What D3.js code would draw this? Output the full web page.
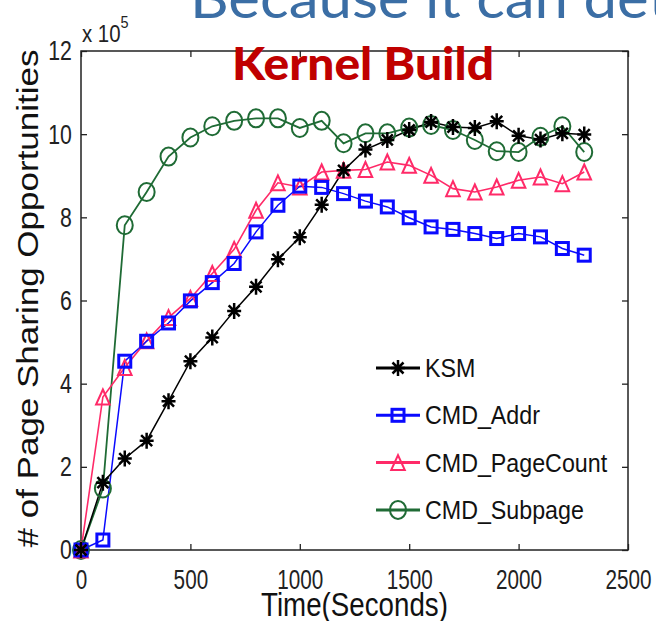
<!DOCTYPE html>
<html><head><meta charset="utf-8">
<script src="https://cdn.jsdelivr.net/npm/d3@7"></script>
<style>body{margin:0;background:#fff}svg{display:block}</style>
</head><body>
<svg id="chart" width="656" height="621"></svg>
<script>
const times = [0,100,200,300,400,500,600,700,800,900,1000,1100,1200,1300,1400,1500,1600,1700,1800,1900,2000,2100,2200,2300];
const ksm = [0,1.62,2.2,2.63,3.58,4.54,5.11,5.75,6.33,6.99,7.52,8.3,9.13,9.63,9.86,10.1,10.29,10.17,10.15,10.31,9.96,9.87,10.02,9.99];
const cmdAddr = [0,0.24,4.54,5.02,5.46,5.99,6.43,6.89,7.65,8.29,8.75,8.72,8.57,8.39,8.25,7.99,7.77,7.71,7.61,7.49,7.61,7.53,7.25,7.09];
const cmdPageCount = [0,3.68,4.39,5.03,5.59,6.05,6.65,7.23,8.17,8.83,8.73,9.09,9.13,9.15,9.33,9.25,9.01,8.69,8.61,8.73,8.89,8.97,8.81,9.09];
const cmdSubpage = [0,1.48,7.81,8.61,9.46,9.92,10.19,10.32,10.38,10.38,10.15,10.32,9.78,10.02,10.02,10.16,10.22,10.1,9.86,9.59,9.57,9.94,10.19,9.57];
const seriesNames = ["KSM","CMD_Addr","CMD_PageCount","CMD_Subpage"];
const xTicks = [0,500,1000,1500,2000,2500];
const yTicks = [0,2,4,6,8,10,12];
const titleText = "Kernel Build";
const slideText = "Because it can det";

const svg = d3.select("#chart");
const x = d3.scaleLinear().domain([0,2500]).range([81,628]);
const y = d3.scaleLinear().domain([0,12]).range([550,51]);

// slide heading (cut off at top)
svg.append("text").attr("x",190).attr("y",18)
  .attr("font-family","Lato").attr("font-size",56).attr("fill","#3b6ea5")
  .attr("textLength",480).attr("lengthAdjust","spacingAndGlyphs")
  .text(slideText);

const fontAx = "Liberation Sans";
const axColor = "#222";

// bottom axis
const gx = svg.append("g").attr("transform",`translate(0,${y(0)})`)
  .call(d3.axisBottom(x).tickValues(xTicks).tickSize(-6).tickSizeOuter(0).tickPadding(19).tickFormat(d3.format("d")));
gx.selectAll("text").attr("font-family",fontAx).attr("font-size",28).attr("fill",axColor).attr("transform","scale(0.74,1)");
// left axis
const gy = svg.append("g").attr("transform",`translate(${x(0)},0)`)
  .call(d3.axisLeft(y).tickValues(yTicks).tickSize(-6).tickSizeOuter(0).tickPadding(12).tickFormat(d3.format("d")));
gy.selectAll("text").attr("font-family",fontAx).attr("font-size",28).attr("fill",axColor).attr("transform","scale(0.76,1)");
// top and right axes (ticks only)
svg.append("g").attr("transform",`translate(0,${y(12)})`)
  .call(d3.axisTop(x).tickValues(xTicks).tickSize(-6).tickSizeOuter(0).tickFormat(""));
svg.append("g").attr("transform",`translate(${x(2500)},0)`)
  .call(d3.axisRight(y).tickValues(yTicks).tickSize(-6).tickSizeOuter(0).tickFormat(""));
svg.selectAll(".domain").remove();
svg.selectAll(".tick line").attr("stroke",axColor).attr("stroke-width",1.3);
svg.append("rect").attr("x",x(0)).attr("y",y(12)).attr("width",x(2500)-x(0)).attr("height",y(0)-y(12))
  .attr("fill","none").attr("stroke",axColor).attr("stroke-width",1.5);

// exponent label
const ex = svg.append("text").attr("x",82).attr("y",42).attr("font-family",fontAx).attr("font-size",24).attr("fill",axColor)
  .attr("transform","translate(82,0) scale(0.85,1) translate(-82,0)");
ex.append("tspan").text("x 10");
ex.append("tspan").attr("dy",-14).attr("font-size",17).text("5");

// axis labels
svg.append("text").attr("transform",`translate(38,${(y(0)+y(12))/2 - 2}) rotate(-90) scale(1,0.82)`)
  .attr("text-anchor","middle").attr("font-family",fontAx).attr("font-size",35).attr("fill","#111")
  .text("# of Page Sharing Opportunities");
svg.append("text").attr("transform",`translate(${(x(0)+x(2500))/2},616) scale(0.84,1)`)
  .attr("text-anchor","middle").attr("font-family",fontAx).attr("font-size",33).attr("fill","#111")
  .text("Time(Seconds)");

// marker generators
function drawMarker(g, type, color, sw){
  if(type==="star"){
    const p = "M0,-8L0,8M-7,0L7,0M-5.5,-5.5L5.5,5.5M-5.5,5.5L5.5,-5.5";
    g.append("path").attr("d",p).attr("stroke",color).attr("stroke-width",sw).attr("fill","none");
  } else if(type==="square"){
    g.append("rect").attr("x",-6).attr("y",-6).attr("width",12).attr("height",12)
      .attr("stroke",color).attr("stroke-width",sw).attr("fill","none");
  } else if(type==="triangle"){
    g.append("path").attr("d","M0,-7.5L6.8,7.5L-6.8,7.5Z").attr("stroke",color).attr("stroke-width",sw).attr("fill","none");
  } else {
    g.append("ellipse").attr("rx",8).attr("ry",9).attr("stroke",color).attr("stroke-width",sw).attr("fill","none");
  }
}

const series = [
  {name:seriesNames[3], vals:cmdSubpage, color:"#1f6b35", marker:"circle", lw:1.8, msw:2},
  {name:seriesNames[2], vals:cmdPageCount, color:"#ff2a68", marker:"triangle", lw:1.6, msw:2},
  {name:seriesNames[1], vals:cmdAddr, color:"#0a0aff", marker:"square", lw:1.5, msw:3},
  {name:seriesNames[0], vals:ksm, color:"#000000", marker:"star", lw:1.5, msw:2.5}
];
const line = d3.line().x((d,i)=>x(times[i])).y(d=>y(d));
series.forEach(s=>{
  svg.append("path").datum(s.vals).attr("d",line).attr("fill","none").attr("stroke",s.color).attr("stroke-width",s.lw);
});
series.forEach(s=>{
  s.vals.forEach((v,i)=>{
    const g = svg.append("g").attr("transform",`translate(${x(times[i])},${y(v)})`);
    drawMarker(g,s.marker,s.color,s.msw);
  });
});

// legend
const legendOrder = [series[3],series[2],series[1],series[0]];
legendOrder.forEach((s,i)=>{
  const ly = 368 + i*47.3;
  const g = svg.append("g");
  g.append("line").attr("x1",376).attr("x2",420).attr("y1",ly).attr("y2",ly).attr("stroke",s.color).attr("stroke-width",3);
  const mg = g.append("g").attr("transform",`translate(398,${ly})`);
  drawMarker(mg,s.marker,s.color,s.msw);
  g.append("text").attr("transform",`translate(425,${ly+9}) scale(0.93,1)`)
    .attr("font-family",fontAx).attr("font-size",25).attr("fill","#111").text(s.name);
});

// title
svg.append("text").attr("x",232).attr("y",80).attr("font-family","Lato").attr("font-weight","900")
  .attr("font-size",46).attr("fill","#c00000").attr("textLength",262).attr("lengthAdjust","spacingAndGlyphs")
  .text(titleText);
</script>
</body></html>
